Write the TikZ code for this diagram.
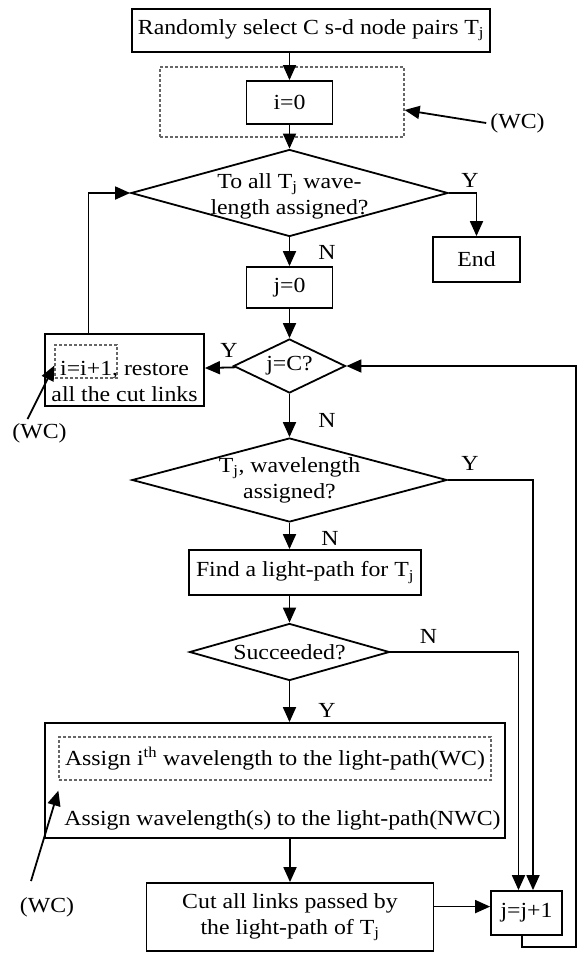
\documentclass[tikz,border=0pt]{standalone}
\usepackage{fontspec}
\setmainfont{Liberation Serif}[FakeStretch=1.107]
\usetikzlibrary{shapes.geometric,arrows.meta}
\begin{document}
\begin{tikzpicture}[->,>={Triangle[length=15pt,width=13pt]},x=1pt,y=-1pt,line width=1.8pt,
    font=\fontsize{21.5}{26}\selectfont,
    box/.style={draw,rectangle,inner sep=0pt},
    decision/.style={draw,diamond,inner sep=0pt},
    wcline/.style={draw=black!60,dash pattern=on 3pt off 2pt,line width=1.3pt}]
    \useasboundingbox (0,0) rectangle (579,954);
    % boxes and tests of the main column
    \node[box,minimum width=358pt,minimum height=43pt] (start) at (311,30.5) {Randomly select C s-d node pairs T\textsubscript{j}};
    \node[box,wcline,minimum width=244pt,minimum height=70pt] (wcbox) at (282,102) {};
    \node[box,minimum width=86pt,minimum height=43pt] (i0) at (289.5,102.5) {i=0};
    \node[decision,minimum width=317pt,minimum height=87pt,label={[align=center,yshift=-3pt]center:To all T\textsubscript{j} wave-\\length assigned?}] (test1) at (289.5,193) {};
    \node[box,minimum width=87pt,minimum height=45pt] (end) at (476.5,259.5) {End};
    \node[box,minimum width=86pt,minimum height=41pt] (j0) at (289.5,287.5) {j=0};
    \node[decision,minimum width=112pt,minimum height=54pt,label={center:j=C?}] (test2) at (289.5,366) {};
    \node[box,minimum width=159pt,minimum height=72pt,label={[align=center,yshift=-11pt]center:{i=i+1, restore\\all the cut links}}] (restore) at (124.5,370) {};
    \node[box,wcline,minimum width=62pt,minimum height=33pt] (wc2box) at (86,361.5) {};
    \node[decision,minimum width=315pt,minimum height=84pt,label={[align=center]center:{T\textsubscript{j}, wavelength\\assigned?}}] (test3) at (289.5,480) {};
    \node[box,minimum width=232pt,minimum height=45pt] (find) at (305,572.5) {Find a light-path for T\textsubscript{j}};
    \node[decision,minimum width=200pt,minimum height=57pt,label={center:Succeeded?}] (test4) at (289.5,652) {};
    \node[box,minimum width=460pt,minimum height=115pt] (assign) at (275,780.5) {};
    \node[box,wcline,minimum width=432pt,minimum height=43pt] (assignwc) at (275,758.5) {Assign i\textsuperscript{th} wavelength to the light-path(WC)};
    \node (assignnwc) at (282.5,820) {Assign wavelength(s) to the light-path(NWC)};
    \node[box,minimum width=287pt,minimum height=68pt,align=center] (cut) at (290,917) {Cut all links passed by\\the light-path of T\textsubscript{j}};
    \node[box,minimum width=71pt,minimum height=44pt] (inc) at (526.5,913) {j=j+1};
    % (WC) notes
    \node (wc1) at (517.5,123) {(WC)};
    \node (wc2) at (39.5,433) {(WC)};
    \node (wc3) at (47,907) {(WC)};
    % branch labels
    \node (y1) at (470,180) {Y};
    \node (n1) at (327,252) {N};
    \node (y2) at (229,350) {Y};
    \node (n2) at (327,420) {N};
    \node (y3) at (470,463) {Y};
    \node (n3) at (330,538) {N};
    \node (n4) at (428.5,636) {N};
    \node (y4) at (327,710) {Y};
    \coordinate (loopc) at (576,947);
    % connectors
    \draw (start.south -| i0) -- (i0);
    \draw (i0) -- (test1);
    \draw (test1.east) -| (end);
    \draw (test1) -- (j0);
    \draw (j0) -- (test2);
    \draw (test2) -- (restore);
    \draw ([xshift=-36pt]restore.north) |- (test1.west);
    \draw (test2) -- (test3);
    \draw (test3.east) -| ([xshift=6.5pt]inc.north);
    \draw (test3) -- (test3 |- find.north);
    \draw (test4 |- find.south) -- (test4);
    \draw (test4.east) -| ([xshift=-8pt]inc.north);
    \draw (test4) -- (test4 |- assign.north);
    \draw (cut |- assign.south) -- (cut);
    \draw (cut.east |- inc.170) -- (inc.170);
    \draw ([xshift=-4.5pt]inc.south) |- (loopc) |- (test2.east);
    \draw (wc1.west) -- ([yshift=-8pt]wcbox.east);
    \draw ([xshift=-12pt]wc2.north) -- ([yshift=-4pt]wc2box.west);
    \draw ([xshift=-16pt,yshift=12pt]wc3.north) -- ([yshift=-10pt]assignwc.south west);
\end{tikzpicture}
\end{document}
